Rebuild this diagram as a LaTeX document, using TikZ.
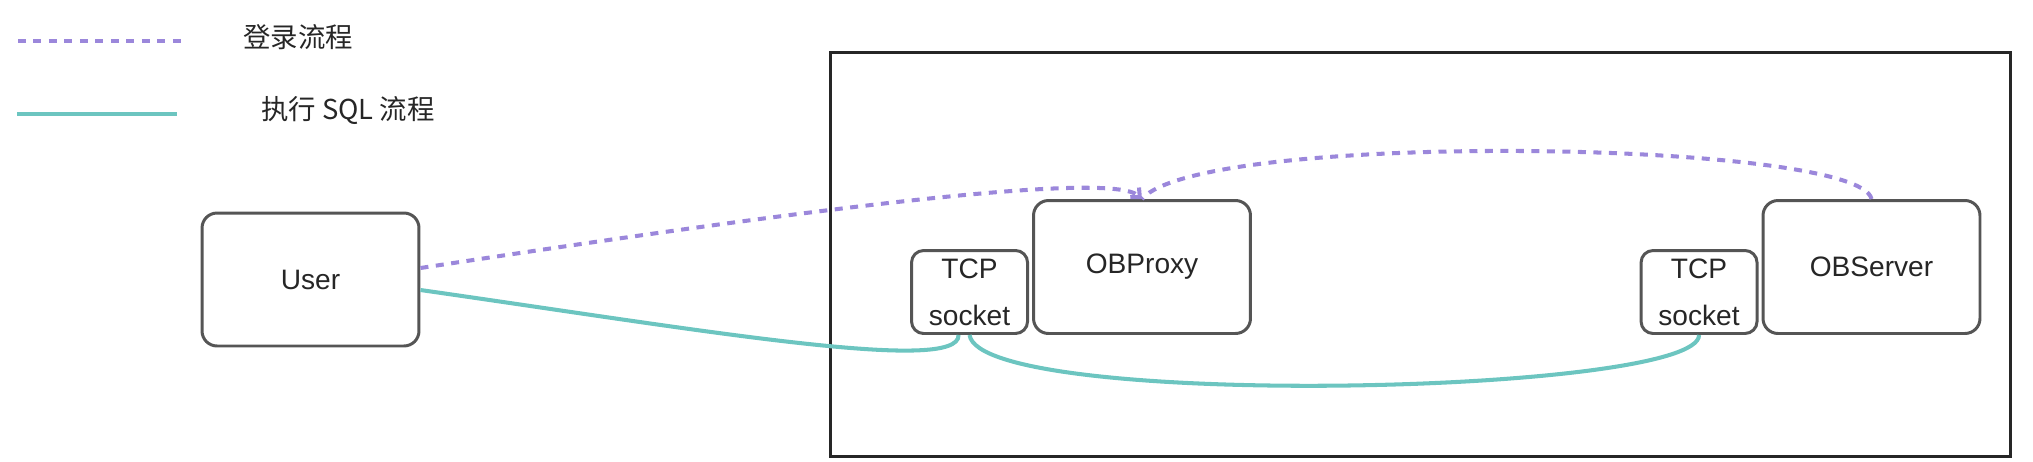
\documentclass[tikz,border=0pt]{standalone}
\usepackage{fontspec}
\setmainfont{Liberation Sans}
\newfontfamily\cjk{Noto Sans CJK SC}
\usepackage{xcolor}
\usepackage{tikz}
\usetikzlibrary{positioning,arrows.meta}
\definecolor{loginpurple}{HTML}{9B87DB}
\definecolor{sqlteal}{HTML}{6CC5C0}
\definecolor{boxgray}{HTML}{555555}
\tikzset{main node/.style={draw=boxgray,line width=1.7pt,rounded corners=0.3cm,fill=white,align=center,text=black!85,font=\fontsize{16}{26.7}\selectfont,inner sep=0pt},
big node/.style={main node,minimum width=4.34cm,minimum height=2.66cm},
socket node/.style={main node,rounded corners=0.24cm,minimum width=2.32cm,minimum height=1.66cm},
login line/.style={draw=loginpurple,line width=2.3pt,dash pattern=on 0.16cm off 0.15cm},
sql line/.style={draw=sqlteal,line width=2.3pt},
legend text/.style={font=\cjk\fontsize{15.6}{18}\selectfont,text=black!85},}

\begin{document}
\begin{tikzpicture}[x=0.02cm,y=-0.02cm]
    \useasboundingbox (0,0) rectangle (2033,461);

    % legend
    \coordinate (loginA) at (18,41);
    \coordinate (loginB) at (185,41);
    \coordinate (sqlA) at (17,114);
    \coordinate (sqlB) at (177,114);
    \draw[login line] (loginA) -- (loginB);
    \draw[sql line] (sqlA) -- (sqlB);
    \node[legend text] (loginlabel) at (298,37) {登录流程};
    \node[legend text] (sqllabel) at (348,110) {执行 SQL 流程};

    % cluster frame
    \draw[draw=black!85,line width=1.7pt] (830,52) rectangle (2010,456);

    \node[big node] (user) at (310.5,279.5) {User};
    \node[big node] (proxy) at (1142,267) {OBProxy};
    \node[big node] (server) at (1871.5,267) {OBServer};
    \node[socket node] (tcp1) [left=0.06cm of proxy.south west, anchor=south east] {TCP\\socket};
    \node[socket node] (tcp2) [left=0.06cm of server.south west, anchor=south east] {TCP\\socket};

    \path[login line,-{Straight Barb[length=0.14cm,width=0.26cm]}]
    ([yshift=0.23cm]user.east) .. controls (800,210) and (1110,170) .. (proxy.north);
    \path[login line]
    (server.north) .. controls (1860,140) and (1200,130) .. (proxy.north);

    \path[sql line]
    ([yshift=-0.21cm]user.east) .. controls (700,330) and (960,375) .. ([xshift=-0.22cm]tcp1.south);
    \path[sql line]
    (tcp1.south) .. controls (980,410) and (1700,395) .. (tcp2.south);
\end{tikzpicture}
\end{document}
